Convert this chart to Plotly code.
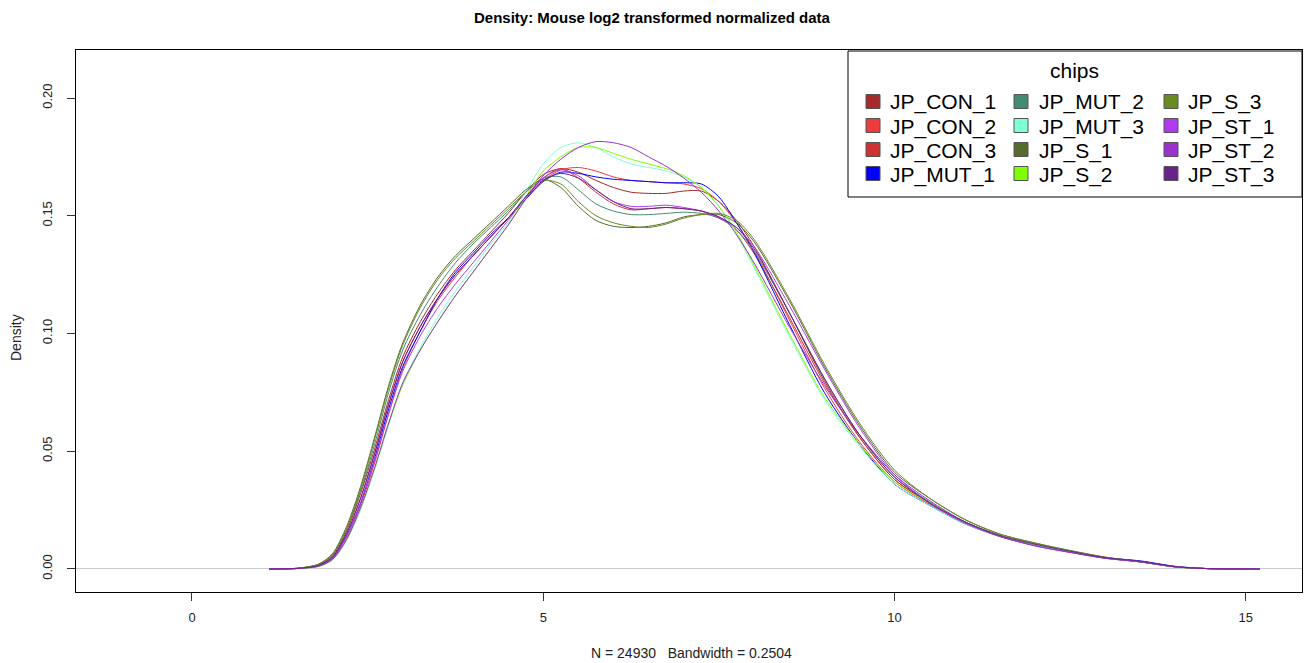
import plotly.graph_objects as go

x_grid = [1.1, 1.5, 1.8, 2.0, 2.2, 2.4, 2.6, 2.8, 3.0, 3.25, 3.5, 3.75, 4.0, 4.25, 4.5, 4.75,
          5.0, 5.25, 5.5, 5.75, 6.0, 6.25, 6.5, 6.75, 7.0, 7.25, 7.5, 7.75, 8.0, 8.5, 9.0,
          9.5, 10.0, 10.5, 11.0, 11.5, 12.0, 12.5, 13.0, 13.5, 14.0, 14.5, 15.2]

chips = ["JP_CON_1", "JP_CON_2", "JP_CON_3", "JP_MUT_1", "JP_MUT_2", "JP_MUT_3",
         "JP_S_1", "JP_S_2", "JP_S_3", "JP_ST_1", "JP_ST_2", "JP_ST_3"]

colors = ["#A52A2A", "#EE3B3B", "#CD3333", "#0000FF", "#458B74", "#7FFFD4",
          "#556B2F", "#7FFF00", "#698B22", "#B23AEE", "#9A32CD", "#68228B"]

JP_CON_1 = [0, 0.0002, 0.0017, 0.0055, 0.016, 0.032, 0.051, 0.072, 0.090, 0.105, 0.117, 0.127, 0.135,
            0.143, 0.151, 0.160, 0.1675, 0.170, 0.1685, 0.165, 0.162, 0.160, 0.1595, 0.1595, 0.1605,
            0.1605, 0.156, 0.148, 0.137, 0.109, 0.080, 0.056, 0.038, 0.028, 0.0200, 0.0140, 0.0105,
            0.0075, 0.0048, 0.003, 0.0009, 0.0001, 0]
JP_CON_2 = [0, 0.0002, 0.0012, 0.0042, 0.013, 0.027, 0.045, 0.066, 0.085, 0.101, 0.114, 0.124, 0.133,
            0.141, 0.149, 0.157, 0.165, 0.1695, 0.1705, 0.169, 0.1665, 0.165, 0.1645, 0.164, 0.1635,
            0.1615, 0.156, 0.147, 0.135, 0.106, 0.077, 0.054, 0.037, 0.0275, 0.0195, 0.0138, 0.010,
            0.0072, 0.0046, 0.003, 0.0009, 0.0001, 0]
JP_CON_3 = [0, 0.0002, 0.0015, 0.0050, 0.015, 0.030, 0.049, 0.070, 0.088, 0.103, 0.115, 0.125, 0.133,
            0.141, 0.149, 0.158, 0.166, 0.170, 0.166, 0.160, 0.155, 0.1525, 0.153, 0.1535, 0.153,
            0.152, 0.1495, 0.144, 0.134, 0.107, 0.079, 0.056, 0.038, 0.028, 0.0200, 0.0142, 0.0105,
            0.0075, 0.0048, 0.003, 0.0009, 0.0001, 0]
JP_MUT_1 = [0, 0.0002, 0.0013, 0.0045, 0.014, 0.028, 0.047, 0.068, 0.086, 0.101, 0.115, 0.126, 0.134,
            0.142, 0.149, 0.157, 0.1645, 0.1685, 0.168, 0.1665, 0.1655, 0.165, 0.1645, 0.164, 0.164,
            0.1635, 0.158, 0.147, 0.1345, 0.104, 0.075, 0.053, 0.036, 0.027, 0.0192, 0.0138, 0.010,
            0.0072, 0.0048, 0.0034, 0.0011, 0.0001, 0]
JP_MUT_2 = [0, 0.0003, 0.0018, 0.006, 0.017, 0.033, 0.053, 0.075, 0.093, 0.108, 0.120, 0.130, 0.138,
            0.145, 0.152, 0.160, 0.166, 0.1665, 0.161, 0.155, 0.152, 0.1505, 0.1505, 0.151, 0.1515,
            0.151, 0.149, 0.144, 0.135, 0.109, 0.081, 0.057, 0.039, 0.0285, 0.0200, 0.0142, 0.0105,
            0.0075, 0.0048, 0.003, 0.0009, 0.0001, 0]
JP_MUT_3 = [0, 0.0001, 0.001, 0.0038, 0.012, 0.025, 0.042, 0.061, 0.079, 0.094, 0.107, 0.118, 0.128,
            0.138, 0.147, 0.160, 0.172, 0.179, 0.181, 0.179, 0.175, 0.172, 0.1705, 0.169, 0.1665,
            0.162, 0.154, 0.142, 0.128, 0.099, 0.072, 0.052, 0.036, 0.027, 0.0192, 0.0138, 0.010,
            0.0073, 0.0048, 0.003, 0.0009, 0.0001, 0]
JP_S_1 = [0, 0.0003, 0.002, 0.0065, 0.018, 0.035, 0.056, 0.078, 0.096, 0.112, 0.124, 0.133, 0.140,
          0.147, 0.154, 0.161, 0.1655, 0.162, 0.154, 0.148, 0.1455, 0.145, 0.1455, 0.147, 0.1495,
          0.1505, 0.1505, 0.147, 0.139, 0.114, 0.086, 0.061, 0.041, 0.030, 0.0210, 0.0148, 0.011,
          0.0078, 0.005, 0.003, 0.0009, 0.0001, 0]
JP_S_2 = [0, 0.0001, 0.0011, 0.004, 0.0125, 0.026, 0.043, 0.062, 0.078, 0.093, 0.105, 0.116, 0.126,
          0.136, 0.146, 0.158, 0.169, 0.175, 0.179, 0.179, 0.1765, 0.174, 0.172, 0.170, 0.167,
          0.162, 0.154, 0.143, 0.129, 0.100, 0.073, 0.053, 0.037, 0.028, 0.0200, 0.0142, 0.0105,
          0.0075, 0.0048, 0.003, 0.0009, 0.0001, 0]
JP_S_3 = [0, 0.0003, 0.002, 0.006, 0.017, 0.034, 0.055, 0.077, 0.095, 0.111, 0.123, 0.132, 0.139,
          0.146, 0.153, 0.160, 0.165, 0.1635, 0.156, 0.150, 0.147, 0.1455, 0.145, 0.1465, 0.149,
          0.1505, 0.151, 0.148, 0.140, 0.115, 0.087, 0.062, 0.042, 0.030, 0.0210, 0.0148, 0.011,
          0.0078, 0.005, 0.003, 0.0008, 0.0001, 0]
JP_ST_1 = [0, 0.0002, 0.0013, 0.0045, 0.014, 0.028, 0.046, 0.066, 0.084, 0.099, 0.111, 0.121, 0.130,
           0.139, 0.148, 0.158, 0.166, 0.1695, 0.167, 0.161, 0.156, 0.154, 0.154, 0.1545, 0.1535,
           0.152, 0.149, 0.145, 0.137, 0.112, 0.085, 0.060, 0.040, 0.028, 0.0195, 0.0138, 0.0098,
           0.007, 0.0045, 0.003, 0.0009, 0.0001, 0]
JP_ST_2 = [0, 0.0002, 0.0011, 0.004, 0.0125, 0.026, 0.043, 0.062, 0.079, 0.093, 0.105, 0.116, 0.126,
           0.136, 0.146, 0.157, 0.167, 0.174, 0.179, 0.1815, 0.181, 0.179, 0.175, 0.171, 0.166,
           0.160, 0.152, 0.142, 0.130, 0.103, 0.078, 0.057, 0.040, 0.029, 0.0200, 0.0138, 0.0098,
           0.007, 0.0045, 0.003, 0.0009, 0.0001, 0]
JP_ST_3 = [0, 0.0002, 0.0015, 0.005, 0.015, 0.030, 0.049, 0.070, 0.088, 0.103, 0.115, 0.125, 0.133,
           0.141, 0.149, 0.158, 0.165, 0.168, 0.166, 0.161, 0.156, 0.153, 0.153, 0.1535, 0.153,
           0.152, 0.1495, 0.145, 0.136, 0.109, 0.081, 0.057, 0.039, 0.028, 0.0200, 0.0142, 0.0105,
           0.0075, 0.0048, 0.0033, 0.001, 0.0001, 0]

series = [JP_CON_1, JP_CON_2, JP_CON_3, JP_MUT_1, JP_MUT_2, JP_MUT_3,
          JP_S_1, JP_S_2, JP_S_3, JP_ST_1, JP_ST_2, JP_ST_3]

x_ticks = [0, 5, 10, 15]
y_ticks = [0.00, 0.05, 0.10, 0.15, 0.20]
y_tick_labels = ["0.00", "0.05", "0.10", "0.15", "0.20"]

title_text = "Density: Mouse log2 transformed normalized data"
x_label = "N = 24930\u00a0\u00a0\u00a0Bandwidth = 0.2504"
y_label = "Density"
legend_title = "chips"

W, H = 1304, 663
L, R, T, B = 76, 1302, 50, 592

fig = go.Figure()
for name, col, vals in zip(chips, colors, series):
    fig.add_trace(go.Scatter(x=x_grid, y=vals, mode="lines", name=name,
                             line=dict(color=col, width=1, shape="spline", smoothing=0.8),
                             showlegend=False))

def px(xp):
    return (xp - L) / (R - L)

def py(yp):
    return (B - yp) / (B - T)

shapes = []
annotations = []

# legend box
shapes.append(dict(type="rect", xref="paper", yref="paper", x0=px(848), x1=px(1302),
                   y0=py(197), y1=py(51), line=dict(color="black", width=1),
                   fillcolor="white", layer="above"))
annotations.append(dict(text=legend_title, xref="paper", yref="paper", x=px(1074), y=py(70),
                        showarrow=False, xanchor="center", yanchor="middle",
                        font=dict(size=21, color="black", family="Arial")))
col_sq = [866, 1014, 1164]
col_tx = [888, 1037, 1186]
row_y = [101.5, 125.5, 149.5, 173.5]
for i, (name, col) in enumerate(zip(chips, colors)):
    c, r = i // 4, i % 4
    yc = row_y[r]
    shapes.append(dict(type="rect", xref="paper", yref="paper",
                       x0=px(col_sq[c]), x1=px(col_sq[c] + 14),
                       y0=py(yc + 7), y1=py(yc - 7),
                       line=dict(color="#555555", width=1), fillcolor=col, layer="above"))
    annotations.append(dict(text=name, xref="paper", yref="paper", x=px(col_tx[c]), y=py(yc + 1),
                            showarrow=False, xanchor="left", yanchor="middle",
                            font=dict(size=21, color="black", family="Arial")))

annotations.append(dict(text="<b>" + title_text + "</b>", xref="paper", yref="paper",
                        x=px(652), y=py(17), showarrow=False, xanchor="center", yanchor="middle",
                        font=dict(size=15, color="black", family="Arial")))
annotations.append(dict(text=x_label, xref="paper", yref="paper", x=px(691), y=py(653),
                        showarrow=False, xanchor="center", yanchor="middle",
                        font=dict(size=14, color="#222222", family="Arial")))
annotations.append(dict(text=y_label, xref="paper", yref="paper", x=px(16), y=py(338),
                        showarrow=False, xanchor="center", yanchor="middle", textangle=-90,
                        font=dict(size=14, color="#222222", family="Arial")))

fig.update_layout(
    width=W, height=H,
    margin=dict(l=L, r=W - R, t=T, b=H - B, pad=0),
    paper_bgcolor="white", plot_bgcolor="white",
    font=dict(family="Arial", size=13, color="#222222"),
    shapes=shapes, annotations=annotations,
    xaxis=dict(range=[-1.651, 15.80], tickvals=x_ticks, ticks="outside", ticklen=8,
               tickcolor="#333333", showgrid=False, zeroline=False, showline=True,
               mirror=True, linecolor="black", linewidth=1, ticklabelstandoff=5,
               tickfont=dict(size=13, color="#222222")),
    yaxis=dict(range=[-0.0098, 0.2204], tickvals=y_ticks, ticktext=y_tick_labels,
               ticks="outside", ticklen=8, tickcolor="#333333", tickangle=-90,
               showgrid=False, zeroline=True, zerolinecolor="#CCCCCC", zerolinewidth=1,
               showline=True, mirror=True, linecolor="black", linewidth=1,
               ticklabelstandoff=10, tickfont=dict(size=13, color="#222222")),
)

fig.write_html("out.html", config={"displayModeBar": False},
               post_script="document.body.style.margin='0';document.body.style.overflow='hidden';")
